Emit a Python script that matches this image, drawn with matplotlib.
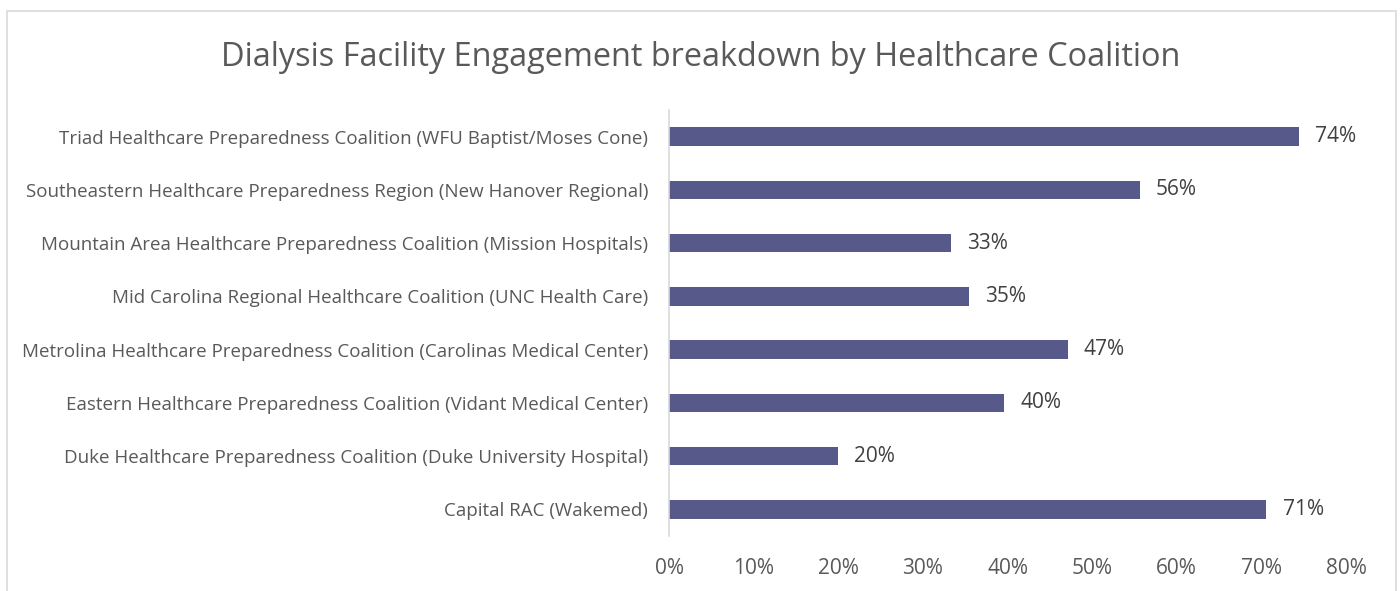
import matplotlib.pyplot as plt
from matplotlib.patches import Rectangle
from matplotlib.ticker import FuncFormatter

# Coaliciones (de abajo hacia arriba, como en el gráfico)
coaliciones = [
    'Capital RAC (Wakemed)',
    'Duke Healthcare Preparedness Coalition (Duke University Hospital)',
    'Eastern Healthcare Preparedness Coalition (Vidant Medical Center)',
    'Metrolina Healthcare Preparedness Coalition (Carolinas Medical Center)',
    'Mid Carolina Regional Healthcare Coalition (UNC Health Care)',
    'Mountain Area Healthcare Preparedness Coalition (Mission Hospitals)',
    'Southeastern Healthcare Preparedness Region (New Hanover Regional)',
    'Triad Healthcare Preparedness Coalition (WFU Baptist/Moses Cone)',
]
porcentajes = [70.6, 20.0, 39.6, 47.1, 35.4, 33.3, 55.6, 74.4]
etiquetas = ['71%', '20%', '40%', '47%', '35%', '33%', '56%', '74%']

plt.rcParams['font.family'] = ['Open Sans', 'DejaVu Sans']

fig = plt.figure(figsize=(14, 5.91), dpi=100)
ax = fig.add_axes([669 / 1400, 1 - 536 / 591, (1346 - 669) / 1400, (536 - 110) / 591])

# Marco del gráfico
fig.patches.append(Rectangle((7 / 1400, -0.05), (1396 - 7) / 1400, 1.05 - 11 / 591,
                             transform=fig.transFigure, fill=False,
                             edgecolor='#D9D9D9', linewidth=1.2))

y = range(len(coaliciones))
ax.barh(y, porcentajes, height=0.35, color='#58598B')

for i, (v, t) in enumerate(zip(porcentajes, etiquetas)):
    ax.text(v + 1.9, i, t, va='center', ha='left', fontsize=15, color='#404040')

ax.set_xlim(0, 80)
ax.set_ylim(-0.5, len(coaliciones) - 0.5)
ax.set_xticks(range(0, 81, 10))
ax.xaxis.set_major_formatter(FuncFormatter(lambda v, p: f'{v:.0f}%'))
ax.set_yticks(list(y))
ax.set_yticklabels(coaliciones)

ax.tick_params(axis='x', length=0, labelsize=15, labelcolor='#595959', pad=16)
ax.tick_params(axis='y', length=0, labelsize=13.5, labelcolor='#595959', pad=15)

for lado in ['top', 'right', 'bottom']:
    ax.spines[lado].set_visible(False)
ax.spines['left'].set_color('#D9D9D9')
ax.spines['left'].set_linewidth(1.2)

fig.text(701 / 1400, 1 - 57 / 591, 'Dialysis Facility Engagement breakdown by Healthcare Coalition',
         ha='center', va='center', fontsize=23.4, color='#595959')

plt.savefig('out.png', dpi=100)
